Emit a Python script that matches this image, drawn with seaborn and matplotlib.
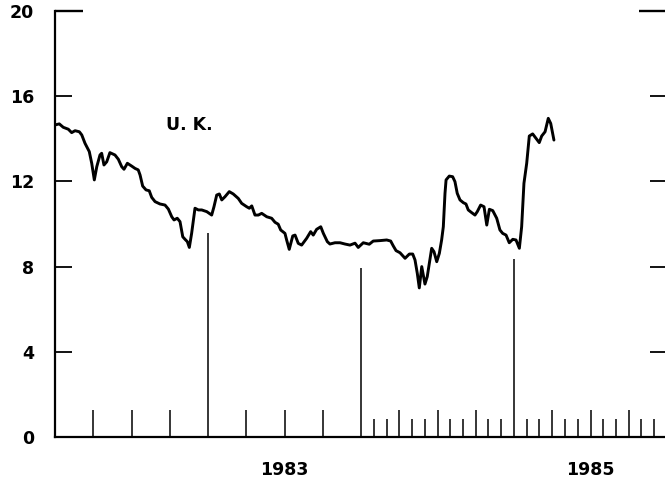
import numpy as np
import pandas as pd
import matplotlib
matplotlib.use("Agg")
import matplotlib.pyplot as plt
import seaborn as sns

# ---- data (decimal years, rate %) ----
years = [1982.000, 1982.028, 1982.054, 1982.087, 1982.109, 1982.131, 1982.159, 1982.175,
         1982.196, 1982.224, 1982.240, 1982.257, 1982.273, 1982.294, 1982.305, 1982.320,
         1982.338, 1982.359, 1982.392, 1982.414, 1982.436, 1982.451, 1982.473, 1982.501,
         1982.523, 1982.544, 1982.556, 1982.573, 1982.595, 1982.616, 1982.632, 1982.654,
         1982.686, 1982.719, 1982.741, 1982.763, 1982.778, 1982.799, 1982.817, 1982.835,
         1982.850, 1982.865, 1982.878, 1982.893, 1982.915, 1982.937, 1982.959, 1982.992,
         1983.024, 1983.039, 1983.057, 1983.074, 1983.090, 1983.111, 1983.139, 1983.165,
         1983.198, 1983.220, 1983.253, 1983.270, 1983.286, 1983.307, 1983.329, 1983.351,
         1983.384, 1983.416, 1983.438, 1983.459, 1983.475, 1983.503, 1983.514, 1983.531,
         1983.554, 1983.569, 1983.590, 1983.612, 1983.645, 1983.671, 1983.688, 1983.710,
         1983.737, 1983.754, 1983.780, 1983.797, 1983.830, 1983.863, 1983.895, 1983.928,
         1983.961, 1983.982, 1984.015, 1984.054, 1984.080, 1984.124, 1984.168, 1984.194,
         1984.211, 1984.229, 1984.255, 1984.288, 1984.316, 1984.338, 1984.353, 1984.368,
         1984.381, 1984.397, 1984.418, 1984.433, 1984.462, 1984.477, 1984.495, 1984.512,
         1984.527, 1984.538, 1984.549, 1984.556, 1984.577, 1984.599, 1984.614, 1984.629,
         1984.647, 1984.669, 1984.686, 1984.701, 1984.724, 1984.745, 1984.760, 1984.782,
         1984.804, 1984.822, 1984.839, 1984.861, 1984.887, 1984.908, 1984.926, 1984.948,
         1984.969, 1984.992, 1985.013, 1985.035, 1985.050, 1985.065, 1985.083, 1985.100,
         1985.122, 1985.144, 1985.165, 1985.181, 1985.203, 1985.224, 1985.240, 1985.261]
rates = [14.65, 14.70, 14.54, 14.45, 14.29, 14.38, 14.33, 14.18,
         13.79, 13.40, 12.85, 12.07, 12.69, 13.24, 13.32, 12.77,
         12.92, 13.35, 13.24, 13.04, 12.69, 12.57, 12.85, 12.72,
         12.61, 12.54, 12.30, 11.78, 11.60, 11.56, 11.25, 11.05,
         10.94, 10.89, 10.70, 10.34, 10.19, 10.27, 10.11, 9.40,
         9.28, 9.17, 8.90, 9.56, 10.74, 10.66, 10.66, 10.58,
         10.42, 10.81, 11.36, 11.41, 11.13, 11.28, 11.52, 11.41,
         11.20, 10.97, 10.81, 10.74, 10.85, 10.42, 10.42, 10.50,
         10.34, 10.27, 10.08, 9.99, 9.72, 9.56, 9.25, 8.81,
         9.44, 9.48, 9.09, 9.01, 9.33, 9.64, 9.48, 9.75,
         9.87, 9.56, 9.17, 9.06, 9.12, 9.12, 9.06, 9.01,
         9.10, 8.90, 9.12, 9.05, 9.20, 9.22, 9.25, 9.20,
         8.97, 8.75, 8.65, 8.39, 8.59, 8.59, 8.31, 7.68,
         7.00, 8.00, 7.18, 7.53, 8.86, 8.70, 8.23, 8.62,
         9.25, 9.87, 11.44, 12.07, 12.25, 12.22, 11.99, 11.44,
         11.13, 11.00, 10.94, 10.66, 10.53, 10.42, 10.58, 10.89,
         10.81, 9.95, 10.69, 10.63, 10.27, 9.72, 9.56, 9.48,
         9.12, 9.28, 9.25, 8.86, 9.87, 11.91, 12.85, 14.13,
         14.23, 14.02, 13.82, 14.13, 14.33, 14.96, 14.72, 13.94]

year_marks = [1983, 1984, 1985]          # tall year-boundary lines
year_mark_heights = [9.58, 7.95, 8.34]
year_labels = {1983.5: "1983", 1985.5: "1985"}
y_ticks = [0, 4, 8, 12, 16, 20]
series_label = "U. K."

# ---- plot ----
sns.set_style("ticks")
plt.rcParams["font.family"] = ["DejaVu Sans"]
plt.rcParams["font.weight"] = "bold"
plt.rcParams["text.color"] = "black"
plt.rcParams["xtick.color"] = "black"
plt.rcParams["ytick.color"] = "black"
plt.rcParams["xtick.labelcolor"] = "black"
plt.rcParams["ytick.labelcolor"] = "black"

fig = plt.figure(figsize=(6.65, 4.82), dpi=100)
ax = fig.add_axes([55 / 665, 1 - 437 / 482, 612 / 665, 426 / 482])

df = pd.DataFrame({"year": years, "rate": rates})
sns.lineplot(data=df, x="year", y="rate", ax=ax, color="black",
             linewidth=2.1, estimator=None, sort=False)

ax.vlines(year_marks, 0, year_mark_heights, color="black", linewidth=1.1)

ax.set_xlim(1982, 1986)
ax.set_ylim(0, 20)
ax.set_xlabel("")
ax.set_ylabel("")

# y axis: ticks inside on both sides
ax.set_yticks(y_ticks)
ax.set_yticklabels([str(v) for v in y_ticks], fontsize=12.5, fontweight="bold",
                   color="black")
ax.tick_params(axis="y", direction="in", length=12.5, width=1.3,
               left=True, right=True, pad=15, labelsize=12.5, colors="black")
for side in ("tick1line", "tick2line"):
    t = getattr(ax.yaxis.get_major_ticks()[-1], side)
    t.set_markersize(20)
    t.set_markeredgewidth(1.7)
ax.yaxis.get_major_ticks()[0].tick1line.set_visible(False)
ax.yaxis.get_major_ticks()[0].tick2line.set_visible(False)

# x axis: quarter ticks (major), month ticks in 1984-85 (minor)
quarters = [q for q in np.arange(1982.25, 1986.0, 0.25) if q % 1 != 0]
months = [m for m in np.arange(1984 + 1 / 12, 1986.0, 1 / 12)
          if abs((m * 4) - round(m * 4)) > 1e-6]
ax.set_xticks(quarters)
ax.set_xticklabels([year_labels.get(round(q, 2), "") for q in quarters],
                   fontsize=12.5, fontweight="bold", color="black")
ax.set_xticks(months, minor=True)
ax.tick_params(axis="x", which="major", direction="in", length=19.5,
               width=1.1, pad=17, labelsize=12.5, colors="black")
ax.tick_params(axis="x", which="minor", direction="in", length=13, width=1.1,
               colors="black")

ax.text(1982.876, 14.65, series_label, ha="center", va="center",
        fontsize=12.5, fontweight="bold", color="black")

for s in ("left", "bottom"):
    ax.spines[s].set_linewidth(1.6)
    ax.spines[s].set_color("black")
ax.spines["top"].set_visible(False)
ax.spines["right"].set_visible(False)

fig.savefig("out.png", dpi=100)
